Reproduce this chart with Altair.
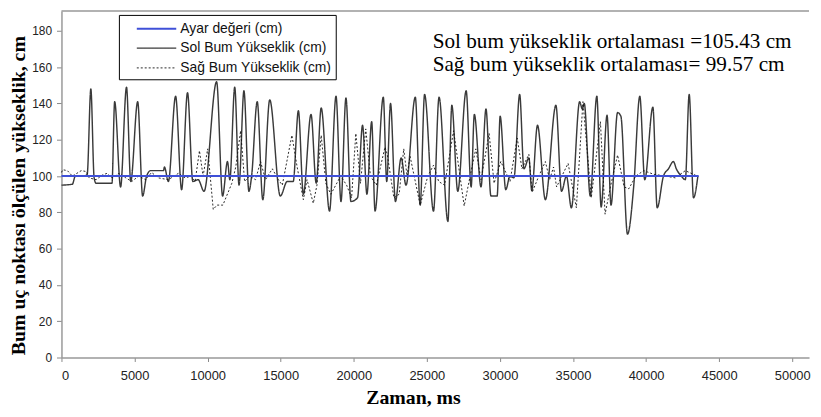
import altair as alt
import pandas as pd

S_AYAR = "Ayar değeri (cm)"
S_SOL = "Sol Bum Yükseklik (cm)"
S_SAG = "Sağ Bum Yükseklik (cm)"
series_names = [S_AYAR, S_SOL, S_SAG]
series_colors = ["#3f50d8", "#3a3a3a", "#111111"]
series_dash = [[1, 0], [1, 0], [2, 2]]
series_width = [2, 0.9, 1]

ayar_t = [0, 43600]
ayar_v = [100, 100]

sol_t = [0, 745, 950, 1560, 1760, 2010, 2235, 2370, 3455, 3640, 4045, 4450, 4740, 5215, 5555,
         5825, 6100, 6980, 7045, 7315, 7810, 8220, 8625, 8990, 9350, 9755, 10615, 11025, 11360,
         11520, 11855, 12150, 12485, 12825, 13010, 13395, 13775, 14250, 14975, 15445, 15855,
         16210, 16550, 17075, 17430, 17770, 18340, 18785, 19125, 19465, 19805, 20255, 20600,
         20900, 21225, 21455, 22020, 22255, 22515, 22850, 23240, 23575, 24210, 24545, 24845,
         25455, 25835, 26440, 26710, 27115, 27690, 28030, 28250, 28705, 29045, 29385, 29810,
         30015, 30400, 30690, 30960, 31350, 31640, 31980, 32180, 32570, 33110, 33830, 34215,
         34550, 34890, 35455, 35635, 35770, 36180, 36630, 36925, 37330, 37600, 38050, 38275,
         38730, 39160, 39570, 39910, 40465, 40760, 41190, 41530, 41870, 42070, 42410, 42685,
         42950, 43245, 43545]
sol_v = [95, 95.5, 100, 100, 101, 148, 99, 96, 96, 141, 94, 149, 97, 141, 89,
         100, 103, 103, 105, 97, 144, 92.5, 146, 97, 98, 91.6, 152, 89, 108,
         98, 149, 95, 147, 91.6, 100, 141, 87, 142, 89, 97, 97,
         136, 90, 134, 96, 137.5, 80.7, 144, 86, 143, 86, 88, 128,
         90, 130, 80.7, 143.5, 97, 140, 86, 110, 95, 143.5, 84, 145,
         80.7, 143.5, 75, 139, 91.6, 147, 94, 134, 94, 137, 89, 89,
         133, 92.5, 100, 99, 145, 104, 110, 92, 128, 87, 139, 91.6,
         100, 82.5, 141, 137, 140, 89, 144, 83, 133.5, 84, 135, 133,
         68, 95, 144, 98, 138, 82.5, 100, 104, 108, 104, 100, 98,
         145, 88, 100]

sag_t = [0, 90, 405, 745, 1355, 1695, 1895, 2370, 2780, 3115, 3455, 3930, 4405, 4810, 5285,
         5760, 6165, 6640, 7315, 7995, 8470, 8875, 9145, 9440, 9690, 10005, 10385, 10635,
         11045, 11655, 11925, 12260, 12530, 12870, 13280, 13620, 13960, 14430, 14840, 15110,
         15765, 16125, 16550, 16800, 17230, 17480, 17770, 18090, 18430, 19105, 19510, 19850,
         20140, 20460, 20820, 21140, 21545, 22135, 22290, 22745, 23105, 23420, 23645, 23850,
         24545, 25065, 25455, 25810, 26215, 26830, 27555, 27960, 28350, 28705, 29260, 29600,
         30060, 30690, 31185, 31505, 31980, 32205, 32660, 33110, 33400, 33670, 33875, 34420,
         34665, 35230, 35680, 36250, 36875, 37195, 37585, 38050, 38500, 38820, 39295, 39840,
         40515, 41330, 42005, 42685, 43225, 43495]
sag_v = [102, 103.5, 103, 100, 103, 102.5, 99, 98, 100.5, 101.5, 99, 101.5, 99, 97, 100,
         98, 102, 99, 98, 101.5, 99, 100, 97, 114, 100, 115, 81.6, 84,
         84, 96, 105, 125, 97, 100, 98, 108, 98, 104, 98, 95,
         122.5, 105, 87, 98, 85, 95, 122.5, 96, 90, 100, 95, 88,
         123.5, 96, 126, 100, 95, 116, 112, 88, 90, 115, 100, 111,
         84, 100, 106, 97, 95, 125, 83.5, 100, 115, 98, 123.5, 96,
         108, 97, 121, 104, 112, 91, 100, 108, 98, 105, 94, 103,
         107, 82.5, 141, 88, 130, 79, 95, 111.6, 94, 93, 100, 103,
         101, 100, 99, 103, 101, 100]

ann_text = ["Sol bum yükseklik ortalaması =105.43 cm", "Sağ bum yükseklik ortalaması= 99.57 cm"]
ann_t = [25400, 25400]
ann_v = [170.5, 158]

x_ticks = [0, 5000, 10000, 15000, 20000, 25000, 30000, 35000, 40000, 45000, 50000]
y_ticks = [0, 20, 40, 60, 80, 100, 120, 140, 160, 180]
x_max = 51150
y_max = 191

rows = []
for name, ts, vs in [(S_SOL, sol_t, sol_v), (S_SAG, sag_t, sag_v), (S_AYAR, ayar_t, ayar_v)]:
    for t, v in zip(ts, vs):
        rows.append({"seri": name, "t": t, "v": v})
df = pd.DataFrame(rows)
ann_df = pd.DataFrame({"txt": ann_text, "t": ann_t, "v": ann_v})

x_scale = alt.Scale(domain=[0, x_max], nice=False, zero=False)
y_scale = alt.Scale(domain=[0, y_max], nice=False, zero=False)
x_axis = alt.Axis(values=x_ticks, tickCount=len(x_ticks), format="d", title="Zaman, ms", grid=False,
                  labelOverlap=False,
                  titleFont="Liberation Serif", titleFontWeight="bold", titleFontSize=20,
                  titleX=355, titleY=46, titleAlign="center", titleBaseline="alphabetic",
                  titleColor="black",
                  labelFont="Liberation Sans", labelFontSize=13, labelColor="#222",
                  tickSize=4, tickColor="#888", domainColor="#999", domainWidth=1.5,
                  labelPadding=8)
y_axis = alt.Axis(values=y_ticks, tickCount=len(y_ticks), title="Bum uç noktası ölçülen yükseklik, cm",
                  grid=False, labelOverlap=False,
                  titleFont="Liberation Serif", titleFontWeight="bold", titleFontSize=20,
                  titleX=-37, titleY=186, titleAlign="center", titleBaseline="alphabetic",
                  titleColor="black",
                  labelFont="Liberation Sans", labelFontSize=12, labelColor="#222",
                  tickSize=5, tickColor="#888", domainColor="#999", domainWidth=1.5,
                  labelPadding=5)
x_enc = alt.X("t:Q", scale=x_scale, axis=x_axis)
y_enc = alt.Y("v:Q", scale=y_scale, axis=y_axis)
color_enc = alt.Color("seri:N", scale=alt.Scale(domain=series_names, range=series_colors), title=None)
dash_enc = alt.StrokeDash("seri:N", scale=alt.Scale(domain=series_names, range=series_dash), title=None)
width_enc = alt.StrokeWidth("seri:N", scale=alt.Scale(domain=series_names, range=series_width), title=None)

base = alt.Chart(df).encode(x=x_enc, y=y_enc, color=color_enc, strokeDash=dash_enc, strokeWidth=width_enc)
layers = [
    base.transform_filter(alt.FieldEqualPredicate(field="seri", equal=S_SOL)).mark_line(interpolate="monotone"),
    base.transform_filter(alt.FieldEqualPredicate(field="seri", equal=S_SAG)).mark_line(),
    base.transform_filter(alt.FieldEqualPredicate(field="seri", equal=S_AYAR)).mark_line(),
]

top_rule = alt.Chart(pd.DataFrame({"a": [0]})).mark_rule(color="#999", strokeWidth=1.5).encode(
    x=alt.datum(0), x2=alt.datum(x_max), y=alt.datum(y_max))

ann = alt.Chart(ann_df).mark_text(align="left", baseline="alphabetic", font="Liberation Serif",
                                  fontSize=21.4, color="black").encode(
    x=alt.X("t:Q", scale=x_scale, axis=x_axis), y=alt.Y("v:Q", scale=y_scale, axis=y_axis), text="txt:N")

chart = alt.layer(*layers, top_rule, ann).properties(
    width=755, height=350,
    autosize=alt.AutoSizeParams(type="none"),
    padding={"left": 54, "top": 1, "right": 4, "bottom": 50},
).configure_view(stroke=None).configure_axis(labelOverlap=False).configure_legend(
    orient="none", legendX=58, legendY=4, strokeColor="black", fillColor="white", padding=4,
    symbolType="M-2.3,0L2.3,0", symbolSize=300, symbolOffset=24, labelOffset=14, rowPadding=3,
    labelFont="Liberation Sans", labelFontSize=14, labelColor="#111", labelLimit=300,
)

chart.save("out.html", embed_options={"renderer": "svg", "actions": False})
